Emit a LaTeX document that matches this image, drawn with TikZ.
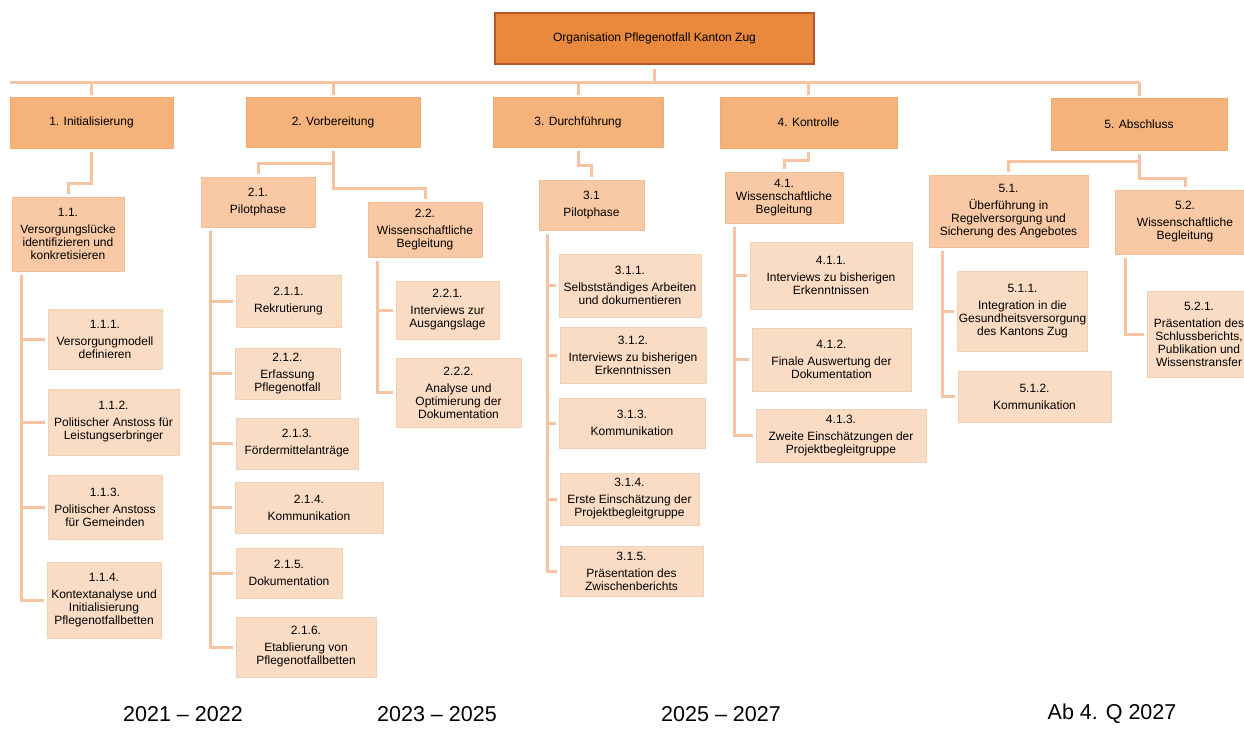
\documentclass[tikz,border=0pt]{standalone}
\usepackage{fontspec}
\setmainfont{Liberation Sans}
\definecolor{topC}{HTML}{E8893D}
\definecolor{topB}{HTML}{B9552E}
\definecolor{phaseC}{HTML}{F5B27B}
\definecolor{subC}{HTML}{F8C9A4}
\definecolor{taskC}{HTML}{FADCC5}
\definecolor{lineC}{HTML}{F6C3A3}
\begin{document}
\begin{tikzpicture}[x=1pt,y=-1pt,
	box/.style={rectangle,inner sep=1pt,align=center,font=\fontsize{12}{13}\selectfont,line width=0.8pt},
	wh/.style 2 args={minimum width=#1pt,minimum height=#2pt},
	root/.style={box,fill=topC,draw=topB,line width=1.6pt},
	phase/.style={box,fill=phaseC,draw=phaseC!88!brown},
	sub/.style={box,fill=subC,draw=subC!88!brown},
	task/.style={box,fill=taskC,draw=taskC!88!brown},
	link/.style={draw=lineC,line width=3pt,shorten <=4pt,shorten >=3pt},
	year/.style={font=\fontsize{21.5}{24}\selectfont}]
	\useasboundingbox (0,0) rectangle (1244,728);
	\clip (0,0) rectangle (1244,728);
	
	\node[root,wh={319}{51}](org) at (654.5,38.5){Organisation Pflegenotfall Kanton Zug};
	
	\node[phase,wh={163}{51}](p1) at (91.5,122.5){1. Initialisierung};
	\node[phase,wh={174}{50}](p2) at (333,122){2. Vorbereitung};
	\node[phase,wh={170}{50}](p3) at (578,122){3. Durchführung};
	\node[phase,wh={177}{51}](p4) at (808.5,122.5){4. Kontrolle};
	\node[phase,wh={176}{52}](p5) at (1139,124){5. Abschluss};
	
	\node[sub,wh={112}{74}](s11) at (68,234){1.1.\\[4pt]Versorgungslücke\\identifizieren und\\konkretisieren};
	\node[sub,wh={114}{50}](s21) at (258,202){2.1.\\[4pt]Pilotphase};
	\node[sub,wh={114}{55}](s22) at (425,229.5){2.2.\\[4pt]Wissenschaftliche\\Begleitung};
	\node[sub,wh={105}{50}](s31) at (591.5,205){3.1\\[4pt]Pilotphase};
	\node[sub,wh={118}{51}](s41) at (784,197.5){4.1.\\Wissenschaftliche\\Begleitung};
	\node[sub,wh={159}{72}](s51) at (1008.5,211){5.1.\\[4pt]Überführung in\\Regelversorgung und\\Sicherung des Angebotes};
	\node[sub,wh={140}{64}](s52) at (1185,222){5.2.\\[4pt]Wissenschaftliche\\Begleitung};
	
	\node[task,wh={114}{60}](t111) at (105,339){1.1.1.\\[4pt]Versorgungmodell\\definieren};
	\node[task,wh={131}{66}](t112) at (113.5,422){1.1.2.\\[4pt]Politischer Anstoss für\\Leistungserbringer};
	\node[task,wh={114}{64}](t113) at (105,507){1.1.3.\\[4pt]Politischer Anstoss\\für Gemeinden};
	\node[task,wh={114}{76}](t114) at (104,600){1.1.4.\\[4pt]Kontextanalyse und\\Initialisierung\\Pflegenotfallbetten};
	
	\node[task,wh={105}{52}](t211) at (288.5,301){2.1.1.\\[4pt]Rekrutierung};
	\node[task,wh={105}{51}](t212) at (287.5,373.5){2.1.2.\\[4pt]Erfassung\\Pflegenotfall};
	\node[task,wh={122}{51}](t213) at (297,443.5){2.1.3.\\[4pt]Fördermittelanträge};
	\node[task,wh={148}{51}](t214) at (309,507.5){2.1.4.\\[4pt]Kommunikation};
	\node[task,wh={106}{50}](t215) at (289,573){2.1.5.\\[4pt]Dokumentation};
	\node[task,wh={140}{60}](t216) at (306,647){2.1.6.\\[4pt]Etablierung von\\Pflegenotfallbetten};
	
	\node[task,wh={103}{58}](t221) at (447.5,310){2.2.1.\\[4pt]Interviews zur\\Ausgangslage};
	\node[task,wh={125}{69}](t222) at (458.5,392.5){2.2.2.\\[4pt]Analyse und\\Optimierung der\\Dokumentation};
	
	\node[task,wh={142}{63}](t311) at (630,285.5){3.1.1.\\[4pt]Selbstständiges Arbeiten\\und dokumentieren};
	\node[task,wh={146}{56}](t312) at (633,355){3.1.2.\\[4pt]Interviews zu bisherigen\\Erkenntnissen};
	\node[task,wh={146}{50}](t313) at (632,423){3.1.3.\\[4pt]Kommunikation};
	\node[task,wh={139}{52}](t314) at (629.5,499){3.1.4.\\[4pt]Erste Einschätzung der\\Projektbegleitgruppe};
	\node[task,wh={143}{50}](t315) at (631.5,571){3.1.5.\\[4pt]Präsentation des\\Zwischenberichts};
	
	\node[task,wh={162}{67}](t411) at (831,275.5){4.1.1.\\[4pt]Interviews zu bisherigen\\Erkenntnissen};
	\node[task,wh={159}{63}](t412) at (831.5,359.5){4.1.2.\\[4pt]Finale Auswertung der\\Dokumentation};
	\node[task,wh={170}{53}](t413) at (841,435.5){4.1.3.\\[4pt]Zweite Einschätzungen der\\Projektbegleitgruppe};
	
	\node[task,wh={129}{80}](t511) at (1022.5,311){5.1.1.\\[4pt]Integration in die\\Gesundheitsversorgung\\des Kantons Zug};
	\node[task,wh={153}{51}](t512) at (1034.5,396.5){5.1.2.\\[4pt]Kommunikation};
	
	\node[task,wh={104}{86}](t521) at (1199,334){5.2.1.\\[4pt]Präsentation des\\Schlussberichts,\\Publikation und\\Wissenstransfer};
	
	% Zeitachse
	\node[year](y1) at (183,714){2021 – 2022};
	\node[year](y2) at (437,714){2023 – 2025};
	\node[year](y3) at (721,714){2025 – 2027};
	\node[year](y4) at (1112,714){Ab 4. Q 2027};
	
	% Verbindungen
	\coordinate (busL) at (10,82);
	\coordinate (busR) at (1139,82);
	\draw[link,shorten <=0pt,shorten >=0pt](busL)--(busR);
	\draw[link,shorten >=0pt](org.south)--(org.south |- busL);
	\foreach \p in {p1,p2,p3,p4,p5}
		\draw[link,shorten <=0pt,shorten >=2pt](\p.north |- busL)--(\p.north);
	
	\draw[link](p1.south)--++(0,35)-|(s11.north);
	\draw[link](p2.south)--++(0,16)-|(s21.north);
	\draw[link](p2.south)--++(0,41)-|(s22.north);
	\draw[link](p3.south)--++(0,18)-|(s31.north);
	\draw[link](p4.south)--++(0,12)-|(s41.north);
	\draw[link](p5.south)--++(0,11)-|(s51.north);
	\draw[link](p5.south)--++(0,28)-|(s52.north);
	
	\foreach \t in {t111,t112,t113,t114}
		\draw[link]([xshift=10pt]s11.south west)|-(\t.west);
	\foreach \t in {t211,t212,t213,t214,t215,t216}
		\draw[link]([xshift=10pt]s21.south west)|-(\t.west);
	\foreach \t in {t221,t222}
		\draw[link]([xshift=10pt]s22.south west)|-(\t.west);
	\foreach \t in {t311,t312,t313,t314,t315}
		\draw[link]([xshift=9pt]s31.south west)|-(\t.west);
	\foreach \t in {t411,t412,t413}
		\draw[link]([xshift=10pt]s41.south west)|-(\t.west);
	\foreach \t in {t511,t512}
		\draw[link]([xshift=14pt]s51.south west)|-(\t.west);
	\draw[link]([xshift=11pt]s52.south west)|-(t521.west);
\end{tikzpicture}
\end{document}
